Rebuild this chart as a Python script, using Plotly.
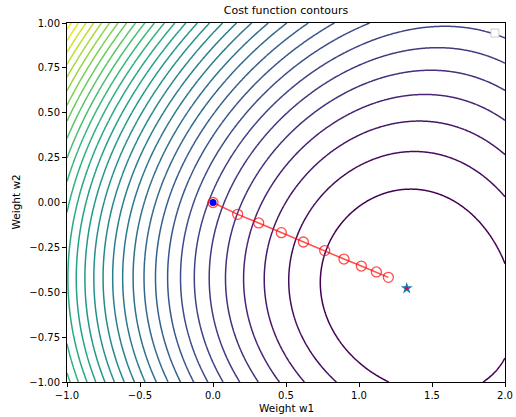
import numpy as np
import plotly.graph_objects as go

# ---- contour crossing points (w1, w2, contour index) ----
trace_w1 = [1.235, 1.851, 0.836, 0.614, 0.443, 0.297, 0.171, 0.062, -0.039, -0.135, -0.226,
            -0.308, -0.386, -0.464, -0.534, -0.605, -0.671, -0.738, -0.801, -0.861, -0.92, -0.986,
            2.0, 2.0, 2.0, 2.0, 2.0, 2.0, 2.0, 2.0,
            1.281, 0.740, 0.767, 0.769, 1.305, 1.5,
            1.075, 0.813, 0.653,
            1.42]
trace_w2 = [-1.0] * 22 + [-0.38, -0.88, 0.042, 0.281, 0.476, 0.638, 0.777, 0.916,
                          0.064, -0.392, -0.267, -0.578, 0.283, 0.96,
                          1.0, 1.0, 1.0,
                          -0.52]
trace_level = [1, 1] + list(range(2, 22)) + [1, 1, 2, 3, 4, 5, 6, 7,
                                            1, 1, 1, 1, 2, 7,
                                            8, 9, 10,
                                            -0.3]

# ---- gradient descent path ----
path_w1 = [0.0, 0.169, 0.313, 0.468, 0.619, 0.765, 0.897, 1.016, 1.119, 1.201]
path_w2 = [0.0, -0.066, -0.114, -0.168, -0.220, -0.268, -0.315, -0.354, -0.387, -0.417]
start_w1, start_w2 = [0.0], [0.0]
opt_w1, opt_w2 = [1.327], [-0.478]

x_ticks = [-1.0, -0.5, 0.0, 0.5, 1.0, 1.5, 2.0]
y_ticks = [-1.0, -0.75, -0.5, -0.25, 0.0, 0.25, 0.5, 0.75, 1.0]


def fmt(v, nd):
    s = f"{v:.{nd}f}"
    return s.replace("-", "\u2212")


# smooth surface through the traced contour points
def monomials(x, y, deg=3):
    cols = []
    for i in range(deg + 1):
        for j in range(deg + 1 - i):
            cols.append((x ** i) * (y ** j))
    return np.stack(cols, axis=-1)


lv = np.array(trace_level, dtype=float)
wts = np.where(lv <= 1, 4.0, np.where(lv <= 2, 2.0, 1.0))
A = monomials(np.array(trace_w1), np.array(trace_w2))
coef, *_ = np.linalg.lstsq(A * wts[:, None], lv * wts, rcond=None)

gx = np.linspace(-1.0, 2.0, 400)
gy = np.linspace(-1.0, 1.0, 300)
GX, GY = np.meshgrid(gx, gy)
Z = monomials(GX, GY) @ coef
zmax = float(np.floor(Z.max()))

fig = go.Figure()
fig.add_trace(go.Contour(
    x=gx, y=gy, z=Z,
    contours=dict(start=1, end=zmax, size=1, coloring="lines"),
    line=dict(width=1.5, smoothing=1),
    colorscale="Viridis", zmin=1, zmax=zmax, showscale=False,
    hoverinfo="skip",
))
fig.add_trace(go.Scatter(
    x=path_w1, y=path_w2, mode="lines+markers",
    line=dict(color="rgba(255,0,0,0.7)", width=1.5),
    marker=dict(symbol="circle-open", size=10, color="rgba(255,0,0,0.7)", line=dict(width=1.3)),
    showlegend=False,
))
fig.add_trace(go.Scatter(
    x=start_w1, y=start_w2, mode="markers",
    marker=dict(symbol="circle", size=7, color="#0000ff"), showlegend=False,
))
fig.add_trace(go.Scatter(
    x=opt_w1, y=opt_w2, mode="markers",
    marker=dict(symbol="star", size=9, color="#1f77b4"), showlegend=False,
))
fig.add_trace(go.Scatter(
    x=opt_w1, y=opt_w2, mode="markers",
    marker=dict(symbol="circle", size=3, color="red"), showlegend=False,
))

font = "DejaVu Sans, Arial, sans-serif"
axis_common = dict(
    showgrid=False, zeroline=False, showline=True, linecolor="black", linewidth=1,
    mirror=True, ticks="outside", ticklen=4, tickwidth=1, tickcolor="black",
    tickfont=dict(family=font, size=10, color="black"), automargin=False,
)
fig.update_xaxes(range=[-1.0, 2.0], tickvals=x_ticks,
                 ticktext=[fmt(v, 1) for v in x_ticks], **axis_common)
fig.update_yaxes(range=[-1.0, 1.0], tickvals=y_ticks,
                 ticktext=[fmt(v, 2) for v in y_ticks], **axis_common)

fig.update_layout(
    width=516, height=417,
    margin=dict(l=67, r=11, t=23, b=35, autoexpand=False),
    plot_bgcolor="white", paper_bgcolor="white",
    showlegend=False,
    title=dict(text="Cost function contours", x=286 / 516, xanchor="center",
               y=1 - 10.5 / 417, yanchor="middle", yref="container",
               font=dict(family=font, size=11, color="black")),
    annotations=[
        dict(text="Weight w1", xref="paper", yref="paper", x=0.5, y=0,
             yshift=-26, yanchor="middle", showarrow=False,
             font=dict(family=font, size=10.5, color="black")),
        dict(text="Weight w2", xref="paper", yref="paper", x=0, y=0.5,
             xshift=-52, xanchor="center", textangle=-90, showarrow=False,
             font=dict(family=font, size=10.5, color="black")),
    ],
    shapes=[dict(type="rect", xref="paper", yref="paper",
                 x0=0.968, x1=0.986, y0=0.961, y1=0.983,
                 line=dict(color="#cccccc", width=1), fillcolor="white")],
)

fig.write_html("out.html")
